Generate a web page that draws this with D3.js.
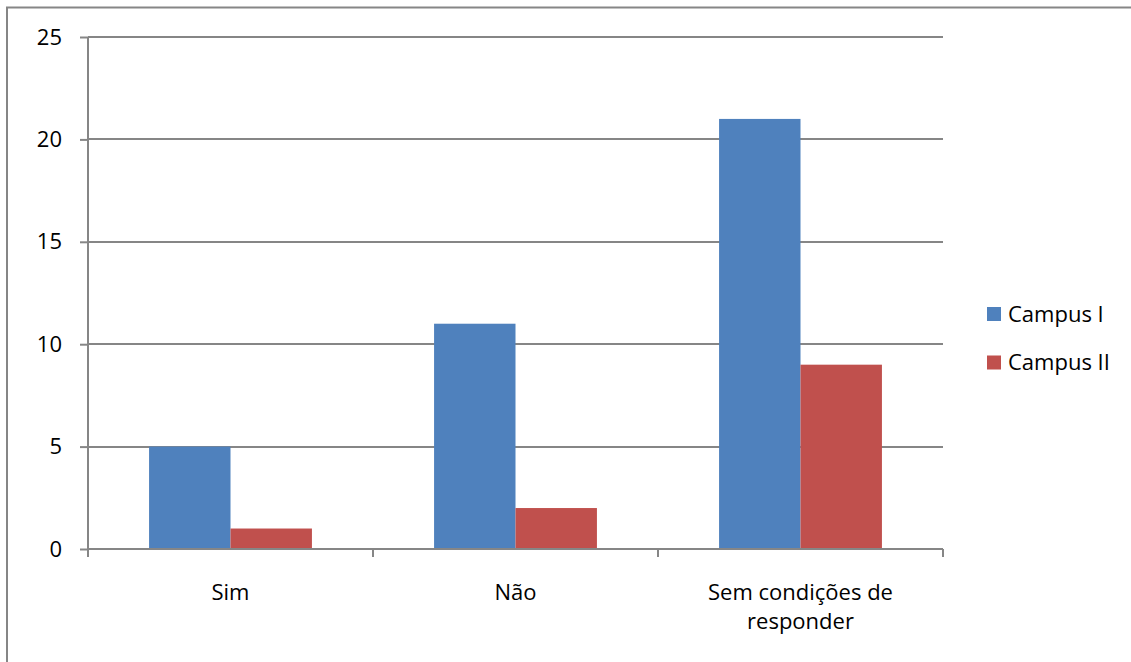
<!DOCTYPE html>
<html>
<head>
<meta charset="utf-8">
<script src="https://cdn.jsdelivr.net/npm/d3@7"></script>
<style>
  html, body { margin: 0; padding: 0; background: #fff; }
  svg text { font-family: "Open Sans", sans-serif; fill: #000; }
</style>
</head>
<body>
<div id="chart"></div>
<script>
// Data
const categories = ['Sim', 'Não', 'Sem condições de responder'];
const categoryLines = [['Sim'], ['Não'], ['Sem condições de', 'responder']];
const seriesNames = ['Campus I', 'Campus II'];
const campusI = [5, 11, 21];
const campusII = [1, 2, 9];
const yTicks = [0, 5, 10, 15, 20, 25];
const colors = ['#4F81BD', '#C0504D'];

const W = 1131, H = 662;
const axisColor = '#868686';
const fontSize = 22;

const svg = d3.select('#chart').append('svg')
  .attr('width', W).attr('height', H);

// outer chart frame (runs off the right / bottom edge)
svg.append('rect')
  .attr('x', 7).attr('y', 7.5)
  .attr('width', 1300).attr('height', 800)
  .attr('fill', 'none')
  .attr('stroke', axisColor)
  .attr('stroke-width', 2);

const plot = { left: 88, right: 943, top: 37, bottom: 549 };

const y = d3.scaleLinear()
  .domain([0, 25])
  .range([plot.bottom, plot.top]);

const x0 = d3.scaleBand()
  .domain(categories)
  .range([plot.left, plot.right])
  .padding(0);

const x1 = d3.scaleBand()
  .domain(seriesNames)
  .range([0, x0.bandwidth()])
  .paddingInner(0)
  .paddingOuter(0.75);

// Gridlines
svg.append('g')
  .selectAll('line')
  .data(yTicks.filter(t => t > 0))
  .join('line')
  .attr('x1', plot.left).attr('x2', plot.right)
  .attr('y1', d => Math.round(y(d))).attr('y2', d => Math.round(y(d)))
  .attr('stroke', axisColor)
  .attr('stroke-width', 2);

// Bars
const rows = categories.map((c, i) => ({ cat: c, values: [campusI[i], campusII[i]] }));
const groups = svg.append('g')
  .selectAll('g')
  .data(rows)
  .join('g')
  .attr('transform', d => `translate(${x0(d.cat)},0)`);

groups.selectAll('rect')
  .data(d => d.values.map((v, j) => ({ key: seriesNames[j], value: v, j })))
  .join('rect')
  .attr('x', d => x1(d.key))
  .attr('width', x1.bandwidth())
  .attr('y', d => y(d.value))
  .attr('height', d => y(0) - y(d.value))
  .attr('fill', d => colors[d.j]);

// Y axis
const yAxis = svg.append('g')
  .attr('transform', `translate(${plot.left},0)`)
  .call(d3.axisLeft(y).tickValues(yTicks).tickSize(8).tickPadding(18));
yAxis.selectAll('path, line').attr('stroke', axisColor).attr('stroke-width', 2);
yAxis.select('.domain').attr('d', `M0,${plot.top}V${plot.bottom}`);
yAxis.selectAll('text')
  .attr('font-size', fontSize)
  .attr('font-family', '"Open Sans", sans-serif')
  .attr('fill', '#000');

// X axis (ticks at category boundaries)
const xAxis = svg.append('g');
xAxis.append('line')
  .attr('x1', plot.left).attr('x2', plot.right)
  .attr('y1', plot.bottom).attr('y2', plot.bottom)
  .attr('stroke', axisColor).attr('stroke-width', 2);

const bounds = categories.map(c => x0(c)).concat([x0(categories[categories.length - 1]) + x0.bandwidth()]);
xAxis.selectAll('.tick')
  .data(bounds)
  .join('line')
  .attr('class', 'tick')
  .attr('x1', d => d).attr('x2', d => d)
  .attr('y1', plot.bottom).attr('y2', plot.bottom + 8)
  .attr('stroke', axisColor).attr('stroke-width', 2);

const lbl = xAxis.selectAll('text')
  .data(categories)
  .join('text')
  .attr('x', d => x0(d) + x0.bandwidth() / 2)
  .attr('y', 600)
  .attr('text-anchor', 'middle')
  .attr('font-size', fontSize);
lbl.selectAll('tspan')
  .data((d, i) => categoryLines[i])
  .join('tspan')
  .attr('x', function() { return this.parentNode.getAttribute('x'); })
  .attr('dy', (d, i) => i === 0 ? 0 : 29)
  .text(d => d);

// Legend
const legend = svg.append('g');
seriesNames.forEach((s, i) => {
  const g = legend.append('g')
    .attr('transform', `translate(987,${314 + i * 48.5})`);
  g.append('rect')
    .attr('x', 0).attr('y', -7)
    .attr('width', 14).attr('height', 14)
    .attr('fill', colors[i]);
  g.append('text')
    .attr('x', 21).attr('y', 0)
    .attr('dy', '0.35em')
    .attr('font-size', fontSize)
    .text(s);
});
</script>
</body>
</html>
